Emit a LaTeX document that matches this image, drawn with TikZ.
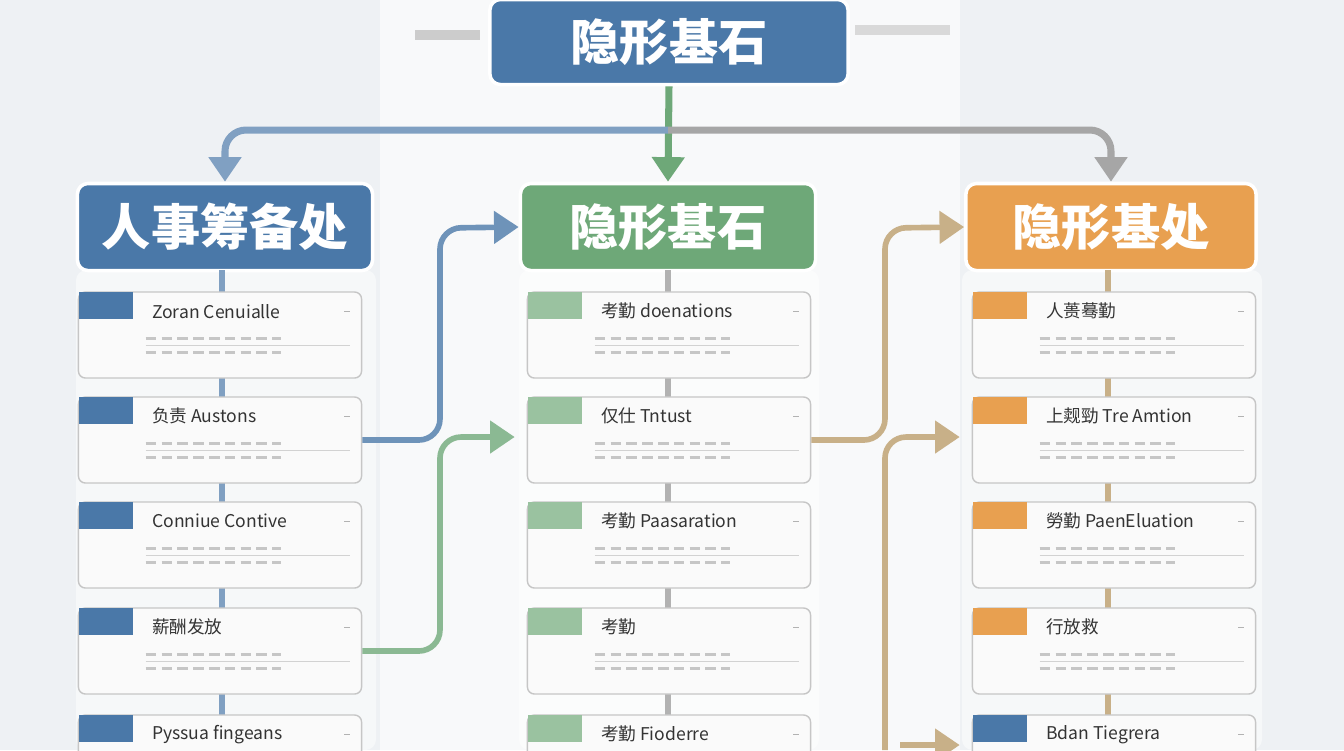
\documentclass[tikz,border=0pt]{standalone}
\usepackage{fontspec}
\setmainfont{Noto Sans CJK SC}
\usetikzlibrary{arrows.meta,positioning,calc}
\definecolor{bluehd}{HTML}{4A78A8}
\definecolor{greenhd}{HTML}{6EA878}
\definecolor{orangehd}{HTML}{E8A050}
\definecolor{tanln}{HTML}{C8B088}
\definecolor{bgc}{HTML}{EEF1F4}
\tikzset{
  hdr/.style={draw=white,line width=1pt,rounded corners=3pt,minimum width=2.95cm,minimum height=0.87cm,text=white,font=\fontsize{14}{14}\selectfont\bfseries},
  card/.style={draw=gray!45,fill=white!96!gray,rounded corners=2pt,minimum width=2.83cm,minimum height=0.86cm},
  ttl/.style={font=\fontsize{5}{6}\selectfont,text=black!80,anchor=west},
  link/.style={line width=1.6pt,rounded corners=6pt},
  tip/.style={-{Triangle[length=7pt,width=9pt]}}
}
\begin{document}
\begin{tikzpicture}[x=0.01cm,y=-0.01cm]
\useasboundingbox (0,0) rectangle (1344,750);
\clip (0,0) rectangle (1344,750);
\fill[bgc] (0,0) rectangle (1344,750);
\fill[white,opacity=0.6] (380,0) rectangle (960,750);
% decoration lines at top
\draw[gray!40,line width=3pt] (415,35) -- (480,35);
\draw[gray!30,line width=3pt] (855,30) -- (950,30);
% top box
\node[hdr,fill=bluehd,minimum width=3.58cm,minimum height=0.85cm] (top) at (669,42) {隐形基石};
% column panels
\foreach \x in {226,669,1112}
  \fill[white,opacity=0.5,rounded corners=3pt] (\x-150,270) rectangle (\x+150,750);
% column headers
\node[hdr,fill=bluehd] (h1) at (225,227) {人事筹备处};
\node[hdr,fill=greenhd] (h2) at (668,227) {隐形基石};
\node[hdr,fill=orangehd,minimum width=2.9cm] (h3) at (1111,227) {隐形基处};
% top distribution
\coordinate (jn) at (668,130);
\draw[greenhd,line width=2pt,tip] (top.south) -- (h2.north);
\draw[bluehd!70,line width=2pt,tip,rounded corners=6pt] (jn) -| (h1.north);
\draw[gray!70,line width=2pt,tip,rounded corners=6pt] (jn) -| (h3.north);
% column spines
\draw[bluehd!70,line width=1.5pt] (222,270) -- (222,750);
\draw[gray!60,line width=1.5pt] (668,270) -- (668,750);
\draw[tanln,line width=1.5pt] (1108,270) -- (1108,750);
% cards
\foreach \col/\cx/\tc in {1/220/bluehd,2/669/greenhd!70,3/1114/orangehd}
  \foreach \row/\cy in {1/335,2/440,3/545,4/651,5/758}{
    \node[card] (c\col\row) at (\cx,\cy) {};
    \fill[\tc] ($(c\col\row.north west)+(1,1)$) rectangle +(54,27);
    \foreach \dy in {47,61}
      \draw[gray!45,line width=1pt,dash pattern=on 3pt off 1.5pt] ($(c\col\row.north west)+(68,\dy)$) -- +(135,0);
    \draw[gray!35] ($(c\col\row.north west)+(68,54)$) -- ($(c\col\row.north east)+(-12,54)$);
    \draw[gray!60] ($(c\col\row.north east)+(-18,20)$) -- +(6,0);
  }
\fill[bluehd] ($(c35.north west)+(1,1)$) rectangle +(54,27);
% card titles
\foreach \col/\row/\txt in {1/1/Zoran Cenuialle,1/2/负责 Austons,1/3/Conniue Contive,1/4/薪酬发放,1/5/Pyssua fingeans,
  2/1/考勤 doenations,2/2/仅仕 Tntust,2/3/考勤 Paasaration,2/4/考勤,2/5/考勤 Fioderre,
  3/1/人蒉蓦勤,3/2/上觌勁 Tre Amtion,3/3/勞勤 PaenEluation,3/4/行放救,3/5/Bdan Tiegrera}
  \node[ttl] (t\col\row) at ($(c\col\row.north west)+(62,20)$) {\txt};
% cross links
\draw[link,bluehd!80,tip] (c12.east) -| (440,228) -- (h2.west);
\draw[link,greenhd!80,tip] (c14.east) -| (440,437) -- ($(c22.west)+(-12,-3)$);
\draw[link,tanln,tip] (c22.east) -| (885,228) -- (h3.west);
\coordinate (lb) at (885,750);
\draw[link,tanln,tip] (lb) |- ($(c32.west)+(-12,-3)$);
\draw[tanln,line width=1.6pt,tip] (900,745) -- ($(c35.west)+(-12,-13)$);
\end{tikzpicture}
\end{document}
